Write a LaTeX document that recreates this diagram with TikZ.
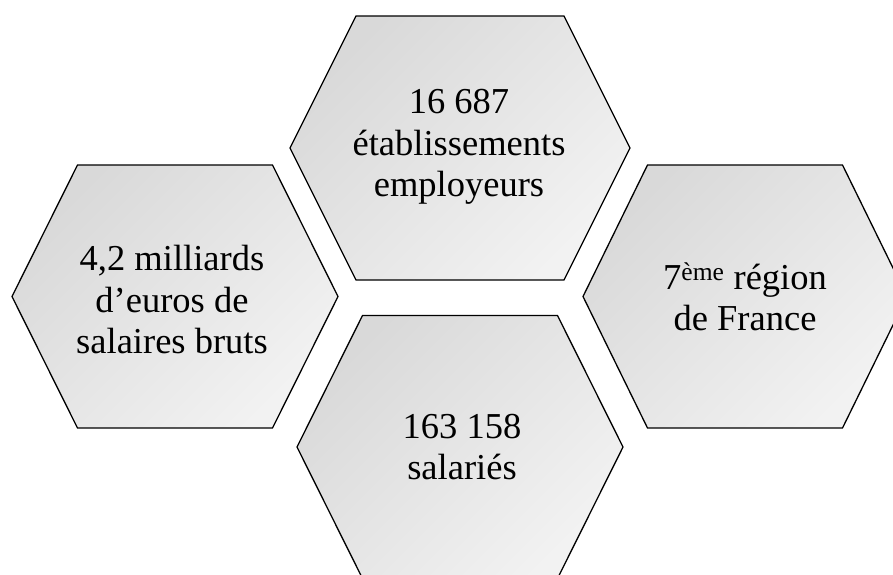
\documentclass[tikz,border=0pt]{standalone}
\usepackage{fontspec}
\setmainfont{Liberation Serif}
\begin{document}
\begin{tikzpicture}[x=1pt,y=-1pt]
\tikzset{
  hexa/.style={draw=black, line width=1.3pt, line join=miter, top color=black!15, bottom color=black!5, shading angle=45},
  lbl/.style={font=\fontsize{36.5}{41.5}\selectfont, align=center, text=black, inner sep=0pt}
}
\useasboundingbox (0,0) rectangle (893,574);
\clip (0,0) rectangle (893,574);
\def\hexshape#1#2#3#4#5{\path[hexa] (#1-#3,#2) -- (#1-#4,#2-#5) -- (#1+#4,#2-#5) -- (#1+#3,#2) -- (#1+#4,#2+#5) -- (#1-#4,#2+#5) -- cycle;}
\hexshape{460}{148}{170}{104}{132}
\hexshape{175}{296.5}{163}{97.5}{131.5}
\hexshape{745}{296.5}{162}{97.5}{131.5}
\hexshape{460}{447}{163}{97.5}{131.5}
\node[lbl] (etab) at (459,147) {16 687\\établissements\\employeurs};
\node[lbl] (sal) at (172,300) {4,2 milliards\\d’euros de\\salaires bruts};
\node[lbl] (reg) at (745,297) {7\textsuperscript{ème} région\\de France};
\node[lbl] (nb) at (462,447) {163 158\\salariés};
\end{tikzpicture}
\end{document}
